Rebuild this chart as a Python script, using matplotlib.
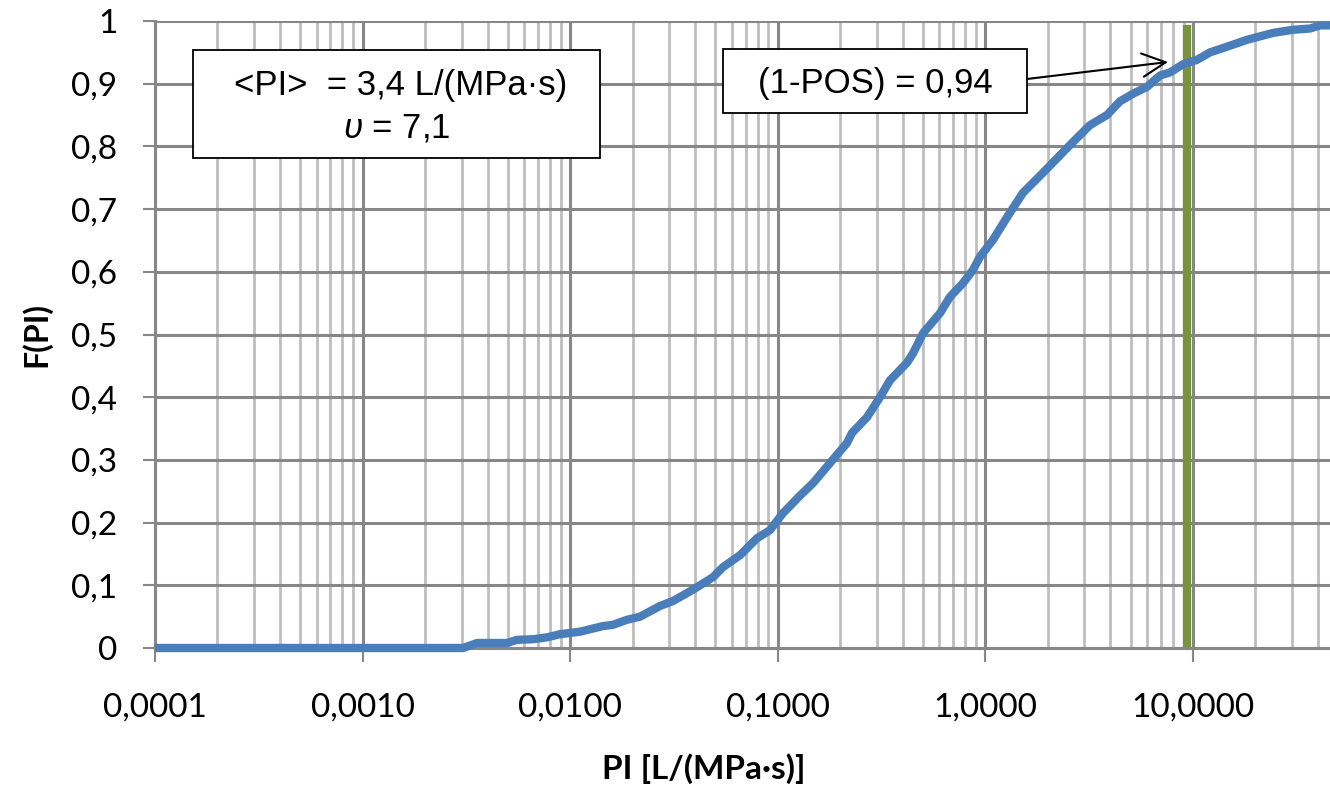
import numpy as np
import matplotlib.pyplot as plt
from matplotlib.ticker import FixedLocator, LogLocator, NullFormatter
from matplotlib.patches import Rectangle

plt.rcParams['font.family'] = ['Lato', 'DejaVu Sans']
plt.rcParams['mathtext.fontset'] = 'custom'
plt.rcParams['mathtext.rm'] = 'Liberation Sans'
plt.rcParams['mathtext.it'] = 'Liberation Sans:italic'

pi_vals = [0.0001, 0.00305, 0.00356, 0.00496, 0.00554, 0.00662, 0.00773, 0.00893,
           0.01115, 0.01439, 0.01608, 0.01878, 0.02169, 0.02708, 0.03128, 0.03904,
           0.04875, 0.05445, 0.06575, 0.07938, 0.0917, 0.1059, 0.1279, 0.1478,
           0.1784, 0.2154, 0.2277, 0.2689, 0.3107, 0.3471, 0.4193, 0.4481, 0.5007,
           0.6044, 0.6753, 0.7799, 0.8714, 0.9419, 1.088, 1.271, 1.517, 1.895,
           2.213, 2.642, 3.191, 3.852, 4.450, 5.140, 6.003, 6.934, 7.748, 8.952,
           10.45, 12.08, 14.58, 18.20, 24.29, 30.32, 36.61, 40.90, 45.7]
f_vals = [0.0, 0.0, 0.008, 0.008, 0.013, 0.014, 0.017, 0.022,
          0.026, 0.035, 0.037, 0.045, 0.05, 0.067, 0.075, 0.093,
          0.113, 0.129, 0.148, 0.175, 0.188, 0.215, 0.243, 0.263,
          0.295, 0.327, 0.343, 0.368, 0.40, 0.427, 0.455, 0.47, 0.502,
          0.534, 0.56, 0.582, 0.603, 0.624, 0.651, 0.687, 0.726, 0.758,
          0.781, 0.807, 0.834, 0.85, 0.872, 0.884, 0.895, 0.913, 0.918, 0.931,
          0.938, 0.95, 0.959, 0.97, 0.981, 0.986, 0.988, 0.993, 0.993]

# 1-POS marker
pos_x = 9.36
pos_f = [0.0, 0.993]

x_ticks = [0.0001, 0.001, 0.01, 0.1, 1, 10]
x_labels = ['0,0001', '0,0010', '0,0100', '0,1000', '1,0000', '10,0000']
y_ticks = [0, 0.1, 0.2, 0.3, 0.4, 0.5, 0.6, 0.7, 0.8, 0.9, 1.0]
y_labels = ['0', '0,1', '0,2', '0,3', '0,4', '0,5', '0,6', '0,7', '0,8', '0,9', '1']

box1_lines = ['<PI>  = 3,4 L/(MPa·s)', r'$\upsilon$ = 7,1']
box2_text = '(1-POS) = 0,94'

grid_dark = '#878787'
grid_light = '#bebebe'

fig = plt.figure(figsize=(13.3, 7.92), dpi=100)
ax = fig.add_axes([155 / 1330, 1 - 648 / 792, 1175 / 1330, 627 / 792])

ax.set_xscale('log')
ax.set_xlim(0.0001, 45.7)
ax.set_ylim(0, 1)

ax.xaxis.set_major_locator(FixedLocator(x_ticks))
ax.set_xticklabels(x_labels)
ax.xaxis.set_minor_locator(LogLocator(base=10, subs=np.arange(2, 10)))
ax.xaxis.set_minor_formatter(NullFormatter())
ax.set_yticks(y_ticks)
ax.set_yticklabels(y_labels)

ax.grid(True, which='major', axis='both', color=grid_dark, lw=2.2, zorder=0)
ax.grid(True, which='minor', axis='x', color=grid_light, lw=2.0, zorder=0)
ax.set_axisbelow(True)

for s in ['top', 'right']:
    ax.spines[s].set_visible(False)
for s in ['left', 'bottom']:
    ax.spines[s].set_color(grid_dark)
    ax.spines[s].set_linewidth(2.2)

ax.tick_params(axis='x', which='major', length=10, width=1.5, color=grid_dark,
               labelsize=24, pad=22)
ax.tick_params(axis='x', which='minor', length=0)
ax.tick_params(axis='y', length=9, width=1.5, color=grid_dark, labelsize=24, pad=18)

ax.plot([pos_x, pos_x], pos_f, color='#77933c', lw=6, solid_capstyle='butt', zorder=2)
ax.plot(pi_vals, f_vals, color='#4a7ebb', lw=6, solid_joinstyle='round',
        solid_capstyle='butt', zorder=3, clip_on=False)

ax.set_xlabel('PI [L/(MPa·s)]', fontsize=24, fontweight='bold', labelpad=22, x=0.467)
ax.set_ylabel('F(PI)', fontsize=23, fontweight='bold', labelpad=14)

# annotation boxes
ax.add_patch(Rectangle((0.0323, 0.7815), 0.3464, 0.1722, transform=ax.transAxes,
                       facecolor='white', edgecolor='black', lw=1.3, zorder=5))
ax.text(0.2094, 0.8979, box1_lines[0], transform=ax.transAxes, ha='center', va='center',
        fontsize=25, family='Liberation Sans', zorder=6)
ax.text(0.2055, 0.8293, box1_lines[1], transform=ax.transAxes, ha='center', va='center',
        fontsize=25, family='Liberation Sans', zorder=6)

ax.add_patch(Rectangle((0.4834, 0.8533), 0.2587, 0.1021, transform=ax.transAxes,
                       facecolor='white', edgecolor='black', lw=1.3, zorder=5))
ax.text(0.6128, 0.9011, box2_text, transform=ax.transAxes, ha='center', va='center',
        fontsize=25, family='Liberation Sans', zorder=6)
ax.annotate('', xy=(0.8621, 0.9346), xytext=(0.7421, 0.9075),
            xycoords='axes fraction', textcoords='axes fraction',
            arrowprops=dict(arrowstyle='->', color='black', lw=1.5,
                            mutation_scale=42, shrinkA=0, shrinkB=0), zorder=6)

plt.savefig('out.png', dpi=100)
